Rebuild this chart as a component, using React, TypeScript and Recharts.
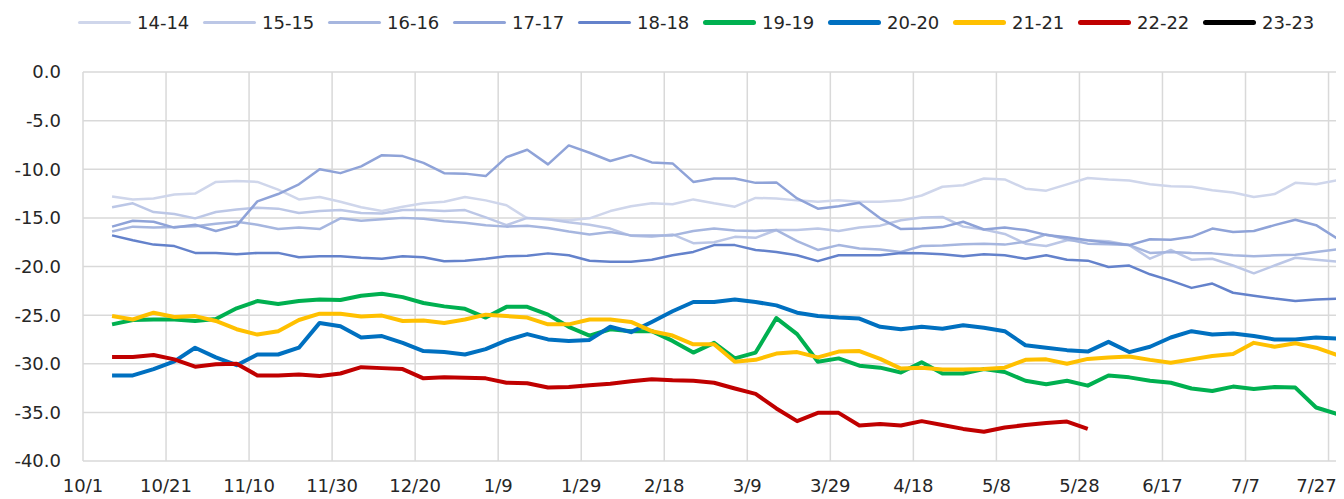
import { LineChart, Line, XAxis, YAxis, CartesianGrid, Legend } from 'recharts';

const FONT = '"DejaVu Sans", sans-serif';
const TEXT = '#262626';

// day offsets from 10/1 (leap year season)
const days = [
  7, 12, 17, 22, 27, 32, 37, 42, 47, 52, 57, 62, 67, 72, 77, 82, 87, 92, 97, 102,
  107, 112, 117, 122, 127, 132, 137, 142, 147, 152, 157, 162, 167, 172, 177, 182, 187, 192, 197, 202,
  207, 212, 217, 222, 227, 232, 237, 242, 247, 252, 257, 262, 267, 272, 277, 282, 287, 292, 297, 302,
];

const xTicks = [0, 20, 40, 60, 80, 100, 120, 140, 160, 180, 200, 220, 240, 260, 280, 300];
const xTickLabels = ['10/1', '10/21', '11/10', '11/30', '12/20', '1/9', '1/29', '2/18', '3/9', '3/29', '4/18', '5/8', '5/28', '6/17', '7/7', '7/27'];
const yTicks = [0, -5, -10, -15, -20, -25, -30, -35, -40];

const s14 = [
  -12.8, -13.1, -13.0, -12.6, -12.5, -11.3, -11.2, -11.3, -12.1, -13.1, -12.85, -13.35, -13.9, -14.3, -13.85, -13.5, -13.35, -12.85, -13.2, -13.7,
  -15.05, -15.15, -15.25, -15.05, -14.3, -13.8, -13.5, -13.6, -13.1, -13.5, -13.85, -12.95, -13.0, -13.2, -13.35, -13.2, -13.35, -13.35, -13.2, -12.7,
  -11.8, -11.65, -10.95, -11.05, -12.0, -12.2, -11.55, -10.9, -11.05, -11.15, -11.55, -11.75, -11.8, -12.15, -12.4, -12.85, -12.55, -11.4, -11.55, -11.15,
];
const s15 = [
  -13.9, -13.5, -14.4, -14.6, -15.05, -14.4, -14.15, -13.95, -14.05, -14.5, -14.3, -14.2, -14.5, -14.55, -14.2, -14.2, -14.3, -14.2, -14.95, -15.75,
  -15.0, -15.15, -15.45, -15.7, -16.1, -16.85, -16.95, -16.7, -17.6, -17.5, -16.95, -17.05, -16.25, -16.25, -16.1, -16.35, -16.0, -15.8, -15.25, -14.95,
  -14.9, -15.9, -16.2, -16.65, -17.65, -17.9, -17.3, -17.3, -17.4, -17.8, -19.2, -18.3, -19.3, -19.2, -19.9, -20.7, -19.9, -19.1, -19.3, -19.5,
];
const s16 = [
  -16.4, -15.9, -16.0, -15.95, -15.85, -15.6, -15.4, -15.7, -16.15, -16.0, -16.15, -15.05, -15.3, -15.15, -15.0, -15.1, -15.35, -15.5, -15.75, -15.9,
  -15.8, -16.05, -16.4, -16.7, -16.45, -16.8, -16.8, -16.8, -16.35, -16.1, -16.3, -16.35, -16.25, -17.4, -18.3, -17.8, -18.15, -18.25, -18.5, -17.9,
  -17.85, -17.7, -17.65, -17.75, -17.45, -16.7, -17.2, -17.65, -17.7, -17.8, -18.6, -18.5, -18.6, -18.65, -18.85, -18.95, -18.85, -18.8, -18.5, -18.25,
];
const s17 = [
  -15.9, -15.3, -15.4, -16.0, -15.7, -16.35, -15.8, -13.3, -12.55, -11.55, -10.0, -10.4, -9.7, -8.55, -8.65, -9.35, -10.4, -10.45, -10.7, -8.75,
  -8.0, -9.5, -7.55, -8.3, -9.15, -8.55, -9.3, -9.4, -11.3, -10.95, -10.95, -11.4, -11.35, -13.0, -14.05, -13.8, -13.45, -15.05, -16.15, -16.1,
  -15.95, -15.4, -16.2, -16.0, -16.25, -16.75, -17.0, -17.3, -17.55, -17.8, -17.2, -17.25, -16.95, -16.1, -16.45, -16.35, -15.75, -15.2, -15.75, -17.1,
];
const s18 = [
  -16.8, -17.3, -17.75, -17.9, -18.6, -18.6, -18.75, -18.6, -18.6, -19.05, -18.95, -18.95, -19.1, -19.2, -18.95, -19.05, -19.45, -19.4, -19.2, -18.95,
  -18.9, -18.65, -18.85, -19.4, -19.5, -19.5, -19.3, -18.85, -18.5, -17.8, -17.8, -18.3, -18.5, -18.85, -19.45, -18.85, -18.85, -18.85, -18.6, -18.65,
  -18.75, -18.95, -18.75, -18.85, -19.2, -18.85, -19.3, -19.4, -20.05, -19.9, -20.8, -21.45, -22.2, -21.75, -22.7, -23.0, -23.3, -23.55, -23.4, -23.3,
];
const s19 = [
  -25.95, -25.5, -25.45, -25.45, -25.6, -25.4, -24.3, -23.55, -23.85, -23.55, -23.4, -23.45, -23.0, -22.8, -23.15, -23.75, -24.1, -24.35, -25.25, -24.15,
  -24.15, -24.95, -26.2, -27.1, -26.45, -26.65, -26.65, -27.65, -28.85, -27.85, -29.45, -28.85, -25.3, -26.95, -29.8, -29.45, -30.2, -30.4, -30.9, -29.85,
  -31.0, -31.0, -30.55, -30.85, -31.75, -32.1, -31.75, -32.25, -31.2, -31.4, -31.75, -31.95, -32.55, -32.8, -32.35, -32.6, -32.4, -32.45, -34.5, -35.15,
];
const s20 = [
  -31.2, -31.2, -30.55, -29.75, -28.35, -29.35, -30.15, -29.05, -29.05, -28.35, -25.8, -26.15, -27.3, -27.15, -27.85, -28.7, -28.8, -29.05, -28.5, -27.6,
  -26.95, -27.5, -27.65, -27.55, -26.2, -26.75, -25.7, -24.6, -23.65, -23.65, -23.4, -23.65, -24.0, -24.75, -25.1, -25.25, -25.35, -26.2, -26.45, -26.2,
  -26.4, -26.05, -26.3, -26.65, -28.1, -28.35, -28.6, -28.75, -27.75, -28.8, -28.25, -27.3, -26.65, -27.0, -26.9, -27.15, -27.5, -27.5, -27.3, -27.4,
];
const s21 = [
  -25.1, -25.45, -24.75, -25.2, -25.1, -25.6, -26.45, -27.0, -26.65, -25.5, -24.85, -24.85, -25.15, -25.05, -25.6, -25.55, -25.8, -25.45, -24.95, -25.1,
  -25.25, -25.95, -25.95, -25.45, -25.45, -25.7, -26.65, -27.1, -28.0, -28.0, -29.8, -29.6, -28.95, -28.8, -29.35, -28.75, -28.7, -29.5, -30.5, -30.4,
  -30.6, -30.6, -30.55, -30.4, -29.6, -29.55, -30.0, -29.5, -29.35, -29.25, -29.6, -29.9, -29.55, -29.2, -29.0, -27.85, -28.25, -27.9, -28.35, -29.1,
];
const s22 = [
  -29.3, -29.3, -29.1, -29.55, -30.3, -30.05, -30.0, -31.2, -31.2, -31.1, -31.25, -31.0, -30.35, -30.45, -30.55, -31.5, -31.4, -31.45, -31.5, -31.95,
  -32.0, -32.45, -32.4, -32.2, -32.05, -31.8, -31.6, -31.7, -31.75, -31.95, -32.55, -33.1, -34.6, -35.9, -35.05, -35.05, -36.35, -36.2, -36.35, -35.9,
  -36.3, -36.7, -37.0, -36.55, -36.3, -36.1, -35.95, -36.7, null, null, null, null, null, null, null, null, null, null, null, null,
];
const s23: (number | null)[] = [];

const SERIES = [
  { key: '14-14', values: s14, color: '#cfd6eb', width: 2.5, legendH: 3 },
  { key: '15-15', values: s15, color: '#bcc7e6', width: 2.5, legendH: 3 },
  { key: '16-16', values: s16, color: '#a6b6df', width: 2.5, legendH: 3 },
  { key: '17-17', values: s17, color: '#8fa3d8', width: 2.5, legendH: 3 },
  { key: '18-18', values: s18, color: '#6482cb', width: 2.5, legendH: 3 },
  { key: '19-19', values: s19, color: '#00b050', width: 4, legendH: 5 },
  { key: '20-20', values: s20, color: '#0070c0', width: 4, legendH: 5 },
  { key: '21-21', values: s21, color: '#ffc000', width: 4, legendH: 5 },
  { key: '22-22', values: s22, color: '#c00000', width: 4, legendH: 5 },
  { key: '23-23', values: s23, color: '#000000', width: 4, legendH: 5 },
];

const data = days.map((day, i) => {
  const row: Record<string, number | null> = { day };
  SERIES.forEach(s => {
    row[s.key] = s.values[i] ?? null;
  });
  return row;
});

function ChartLegend() {
  return (
    <div style={{ display: 'flex', alignItems: 'center', height: 28, paddingLeft: 70, fontFamily: FONT, fontSize: 18, color: TEXT }}>
      {SERIES.map(s => (
        <div key={s.key} style={{ width: 125, display: 'flex', alignItems: 'center', flexShrink: 0 }}>
          <span style={{ display: 'inline-block', width: 53, height: s.legendH, background: s.color, borderRadius: 3, marginRight: 6 }} />
          <span>{s.key}</span>
        </div>
      ))}
    </div>
  );
}

const tickStyle = { fontSize: 18, fill: TEXT, fontFamily: FONT };

// x labels; the last one is nudged left so it stays inside the frame
function XTick(props: any) {
  const { x, y, payload } = props;
  const idx = xTicks.indexOf(payload.value);
  const shift = idx === xTicks.length - 1 ? -12 : 0;
  return (
    <text x={x + shift} y={y} dy="0.71em" textAnchor="middle" {...tickStyle}>
      {xTickLabels[idx] ?? ''}
    </text>
  );
}

export default function App() {
  return (
    <LineChart width={1336} height={491} data={data} margin={{ top: 36, right: 3, bottom: 0, left: 0 }}>
      <CartesianGrid stroke="#d9d9d9" strokeWidth={1.5} />
      <XAxis
        dataKey="day"
        type="number"
        domain={[0, 303]}
        ticks={xTicks}
        axisLine={false}
        tickLine={false}
        tickMargin={12}
        height={38}
        tick={<XTick />}
        interval={0}
      />
      <YAxis
        domain={[-40, 0]}
        ticks={yTicks}
        tickFormatter={(v) => Number(v).toFixed(1)}
        axisLine={false}
        tickLine={false}
        tickMargin={16}
        width={75}
        tick={tickStyle}
        interval={0}
      />
      <Legend verticalAlign="top" align="left" wrapperStyle={{ top: 0, left: 0, width: 1336 }} content={() => <ChartLegend />} />
      {SERIES.map(s => (
        <Line
          key={s.key}
          dataKey={s.key}
          stroke={s.color}
          strokeWidth={s.width}
          strokeLinejoin="round"
          dot={false}
          activeDot={false}
          isAnimationActive={false}
          connectNulls={false}
        />
      ))}
    </LineChart>
  );
}
